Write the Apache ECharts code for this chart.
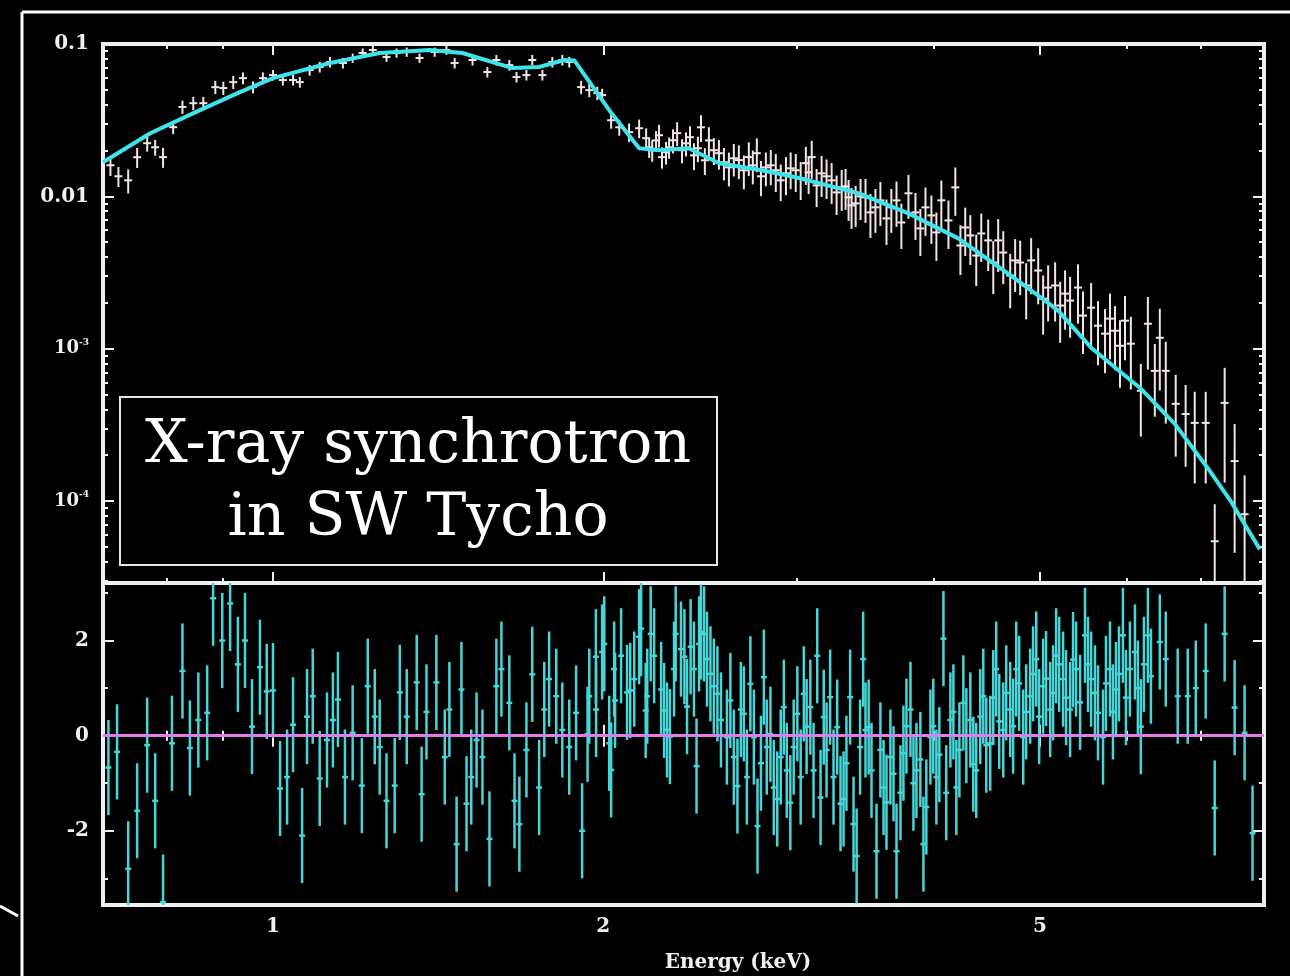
<!DOCTYPE html>
<html><head><meta charset="utf-8">
<script src="https://cdn.jsdelivr.net/npm/echarts@6/dist/echarts.min.js"></script>
<style>html,body{margin:0;padding:0;background:#000;}#c{width:1290px;height:976px;}</style>
</head><body><div id="c"></div>
<script>
// ---------- data ----------
// spectrum bins (keV), flux, relative 1-sigma error
const SPEC_E = [0.711,0.723,0.738,0.752,0.768,0.781,0.794,0.811,0.827,0.846,
0.864,0.886,0.901,0.920,0.939,0.959,0.979,1.000,1.021,1.043,
1.058,1.080,1.103,1.127,1.158,1.182,1.207,1.233,1.269,1.296,
1.324,1.360,1.404,1.439,1.464,1.520,1.568,1.598,1.642,1.667,
1.702,1.723,1.760,1.797,1.835,1.862,1.909,1.942,1.975,1.995,
2.033,2.068,2.111,2.156,2.202,2.234,2.262,2.296,2.335,2.379,
2.419,2.455,2.496,2.549,2.603,2.658,2.714,2.760,2.813,2.872,
2.934,2.995,3.059,3.097,3.162,3.229,3.298,3.346,3.396,3.467,
3.540,3.660,3.794,3.932,4.065,4.186,4.274,4.420,4.580,4.746,
4.908,5.086,5.270,5.415,5.566,5.731,5.852,5.976,6.050,6.178,
6.270,6.362,6.429,6.510,6.647,6.787,6.918,7.079,7.214,7.366,
7.522,7.681,
2.188,2.216,2.248,2.281,2.315,2.359,2.399,2.439,2.475,2.522,
2.576,2.630,2.686,2.737,2.784,2.842,2.902,2.963,3.026,3.077,
3.129,3.195,3.263,3.325,3.367,3.431,3.503,3.577,3.623,3.700,
3.738,3.850,3.890,3.981,4.023,4.126,4.231,4.320,4.374,4.485,
4.533,4.629,4.697,4.796,4.857,4.981,5.033,5.161,5.216,5.326,
5.472,5.647,5.791,5.914];
const SPEC_F = [0.0160,0.01355,0.01274,0.01807,0.02233,0.0210,0.0181,0.02845,0.0386,0.0409,
0.0409,0.0521,0.0514,0.0562,0.0597,0.0521,0.0597,0.0625,0.0580,0.0580,
0.0562,0.0674,0.0706,0.0762,0.0750,0.0809,0.0873,0.0914,0.0821,0.0873,
0.0886,0.0809,0.0886,0.0914,0.0750,0.0785,0.0655,0.0785,0.0727,0.0607,
0.0625,0.0785,0.0625,0.0762,0.0785,0.0762,0.0521,0.0498,0.0476,0.0462,
0.0316,0.0284,0.0264,0.0280,0.0210,0.0233,0.0181,0.0210,0.0260,0.0223,
0.0186,0.0284,0.0233,0.0192,0.0155,0.0173,0.0181,0.0192,0.0155,0.01483,
0.01416,0.01483,0.0165,0.0181,0.01416,0.01274,0.01146,0.00985,0.0090,0.00985,
0.00847,0.00847,0.01047,0.00847,0.00942,0.01146,0.00625,0.00571,0.00514,0.0038,
0.0038,0.00252,0.0023,0.00252,0.00186,0.001256,0.001313,0.001528,0.001079,0.00053,
0.001459,0.000716,0.00118,0.000716,0.000435,0.000373,0.000326,0.000326,0.0000545,0.000441,
0.000183,0.000082,
0.02408,0.02008,0.02519,0.01948,0.02335,0.02008,0.02445,0.02069,0.01725,0.02008,
0.01674,0.01778,0.01483,0.01599,0.01354,0.01599,0.01274,0.01528,0.01313,0.01438,
0.01181,0.01354,0.01062,0.01163,0.00873,0.0100,0.00785,0.00941,0.00717,0.00941,
0.00674,0.00785,0.00616,0.0075,0.0058,0.00695,0.00476,0.00554,0.00409,0.00514,
0.00368,0.00428,0.00302,0.00368,0.0026,0.00326,0.00213,0.0026,0.00192,0.00207,
0.00165,0.001416,0.001576,0.001046];
const SPEC_REL_ERR = [0.15,0.15,0.18,0.15,0.12,0.12,0.15,0.10,0.10,0.10,
0.10,0.10,0.10,0.10,0.09,0.09,0.09,0.08,0.08,0.08,
0.08,0.08,0.08,0.08,0.08,0.07,0.07,0.07,0.07,0.07,
0.07,0.07,0.07,0.07,0.08,0.08,0.08,0.08,0.08,0.08,
0.08,0.08,0.08,0.08,0.08,0.08,0.10,0.10,0.10,0.10,
0.12,0.12,0.14,0.14,0.15,0.15,0.16,0.16,0.18,0.18,
0.20,0.20,0.22,0.22,0.25,0.25,0.25,0.25,0.25,0.28,
0.28,0.28,0.28,0.28,0.30,0.30,0.30,0.30,0.30,0.32,
0.32,0.32,0.32,0.35,0.35,0.35,0.35,0.35,0.38,0.38,
0.40,0.40,0.42,0.42,0.45,0.45,0.45,0.45,0.50,0.50,
0.50,0.50,0.55,0.55,0.55,0.55,0.60,0.60,0.75,0.70,
0.75,0.80,
0.16,0.16,0.17,0.17,0.18,0.18,0.18,0.19,0.20,0.20,
0.24,0.24,0.25,0.25,0.26,0.26,0.27,0.27,0.28,0.28,
0.28,0.29,0.29,0.30,0.30,0.30,0.32,0.32,0.33,0.33,
0.33,0.34,0.34,0.35,0.35,0.35,0.36,0.36,0.37,0.37,
0.38,0.38,0.39,0.39,0.40,0.40,0.42,0.42,0.43,0.43,
0.44,0.45,0.46,0.47];
// fitted model curve
const MODEL_E = [0.700,0.773,0.858,0.933,1.000,1.127,1.251,1.389,1.488,1.653,1.748,1.843,1.882,2.025,2.156,2.248,
2.393,2.550,2.790,2.995,3.418,3.794,4.212,4.677,5.053,5.194,5.566,6.180,6.634,7.108,7.460,7.930];
const MODEL_F = [0.01675,0.02597,0.0368,0.0483,0.0597,0.0750,0.0873,0.0913,0.0873,0.0695,0.0706,0.0785,0.0780,0.0368,0.0207,0.0201,
0.0207,0.01649,0.01483,0.01334,0.01047,0.00773,0.0053,0.00311,0.00207,0.00178,0.001016,0.000546,0.000321,0.000165,0.000100,0.0000483];
// residuals (sigma units)
const RES_E = [0.708,0.721,0.738,0.752,0.768,0.781,0.794,0.809,0.827,0.840,
0.855,0.871,0.882,0.899,0.914,0.929,0.943,0.957,0.973,0.987,
1.000,1.015,1.030,1.043,1.063,1.074,1.087,1.103,1.120,1.134,
1.146,1.163,1.182,1.205,1.220,1.238,1.251,1.269,1.291,1.305,
1.324,1.352,1.366,1.380,1.409,1.434,1.448,1.470,1.485,1.501,
1.516,1.533,1.552,1.575,1.598,1.615,1.642,1.660,1.677,1.702,
1.723,1.748,1.767,1.785,1.812,1.835,1.862,1.889,1.913,1.942,
1.970,1.995,2.025,2.046,2.076,2.102,2.134,2.165,2.193,2.225,
2.258,2.286,2.320,2.354,2.384,2.419,2.455,2.486,2.522,2.560,
2.592,2.630,2.669,2.703,2.743,2.784,2.818,2.860,2.902,2.939,
2.982,3.026,3.064,3.109,3.155,3.195,3.242,3.290,3.331,3.381,
3.467,3.511,3.548,3.601,3.653,3.700,3.754,3.810,3.858,3.915,
3.973,4.023,4.083,4.143,4.195,4.257,4.320,4.374,4.439,4.504,
4.561,4.629,4.697,4.757,4.827,4.898,4.961,5.033,5.108,5.172,
5.248,5.326,5.393,5.495,5.566,5.647,5.707,5.791,5.864,5.950,
6.038,6.102,6.178,6.270,6.310,6.429,6.510,6.675,6.817,6.933,
7.079,7.214,7.366,7.522,7.681,7.810,
1.935,1.969,2.004,2.033,2.050,2.116,2.156,2.186,2.209,2.272,
2.300,2.328,2.371,2.402,2.432,2.445,2.471,2.504,2.541,2.611,
2.650,2.686,2.723,2.764,2.801,2.840,2.881,2.921,2.961,3.005,
3.046,3.088,3.133,3.176,3.219,3.267,3.311,3.357,3.403,3.428,
3.450,3.490,
3.577,3.623,3.677,3.731,3.778,3.834,3.890,3.939,3.997,4.048,
4.107,4.169,4.222,4.284,4.347,4.411,4.467,4.533,4.590,4.658,
4.726,4.786,4.857,4.928,4.991,5.064,5.139,5.205,5.281,5.359,
5.439,5.530,5.611,5.742,5.827,5.901,5.988,6.140,6.218];
const RES_V = [-0.67,-0.34,-2.8,-1.58,-0.2,-1.37,-3.5,-0.16,1.36,-0.26,
0.33,0.48,2.89,2.0,2.78,1.5,2.0,0.19,1.44,0.93,
0.95,-1.11,-0.87,0.23,-2.1,0.4,0.83,-0.9,-0.09,0.33,
0.76,-0.87,0.06,-1.05,1.04,0.4,-0.24,-1.37,-1.05,0.91,
0.4,1.12,-1.23,0.5,1.12,-0.45,0.55,-2.28,0.97,-1.43,
-0.87,-0.09,-0.45,-2.17,1.04,1.4,0.69,-1.37,-1.86,-0.3,
1.29,-1.09,0.55,1.19,0.83,0.12,-0.24,0.48,-2.0,0.83,
0.55,1.76,-0.16,1.4,1.68,0.91,1.19,2.25,0.83,1.68,
0.97,0.12,1.4,1.82,0.61,1.4,2.18,1.61,1.04,0.33,
-0.03,-0.45,0.55,-0.87,-0.03,-0.58,-0.24,-1.09,-0.45,-0.73,
-0.24,-0.87,0.19,-0.73,-1.3,-0.3,-0.87,-1.43,-0.58,-1.86,
0.12,-0.73,-2.43,-1.09,-0.45,-2.43,-0.37,0.55,-0.73,-2.28,
-0.03,-0.87,2.04,0.33,-1.09,0.69,0.33,-0.73,0.83,-0.16,
1.4,0.12,0.55,1.4,-0.03,0.83,1.61,1.04,0.55,1.68,
1.19,0.55,1.4,2.11,1.19,0.48,-0.03,1.4,0.97,2.11,
1.4,1.76,0.19,2.11,1.25,1.97,1.61,0.83,0.83,1.0,
1.36,-1.52,2.14,0.59,0.06,-2.05,
0.03,1.66,1.93,-0.72,0.74,0.95,2.08,0.53,2.14,0.53,
-0.02,2.14,1.66,1.87,-0.64,1.93,2.14,1.3,0.88,0.74,
-1.06,0.46,1.09,-1.9,1.23,0.03,-1.33,0.6,-1.41,0.46,
0.88,0.6,1.68,0.39,0.81,0.18,-1.33,0.81,-2.53,-0.24,
1.61,0.18,
-0.3,-1.4,-0.8,-1.2,0.2,-1.0,-0.5,-1.5,0.2,-0.4,
-1.2,0.5,-0.3,0.0,-0.6,0.4,-0.2,0.8,0.3,0.9,
0.2,1.1,0.5,1.3,0.4,1.2,0.9,1.5,0.8,1.6,
0.7,1.5,0.9,1.1,0.5,1.3,0.8,1.0,1.5];
const RES_SIGMA = 1; // residuals are in units of sigma

// axis ranges and ticks
const X_MIN = 0.7, X_MAX = 8;
const X_MAJOR = [1, 2, 5];
const X_MINOR = [0.8, 0.9, 3, 4, 6, 7];
const YU_MIN = 2.9e-5, YU_MAX = 0.1;
const YU_MAJOR = [1e-4, 1e-3, 0.01, 0.1];
const YU_LABELS = ['{m|10}{s|-4}', '{m|10}{s|-3}', '0.01', '0.1'];
const YU_MINOR = [3e-5,4e-5,5e-5,6e-5,7e-5,8e-5,9e-5,
  2e-4,3e-4,4e-4,5e-4,6e-4,7e-4,8e-4,9e-4,
  2e-3,3e-3,4e-3,5e-3,6e-3,7e-3,8e-3,9e-3,
  0.02,0.03,0.04,0.05,0.06,0.07,0.08,0.09];
const YL_MIN = -3.56, YL_MAX = 3.21;
const YL_MAJOR = [-2, 0, 2];
const YL_MINOR = [-3, -1, 1, 3];

// ---------- chart ----------
const FG = '#f0f0f0';
const FONT = "'DejaVu Serif', serif";
const DATA_COLOR = '#f2e4e4';
const MODEL_COLOR = '#3fe4ea';
const RES_COLOR = '#46d6d8';
const ZERO_COLOR = '#e27ce8';

const labelBase = {color: FG, fontFamily: FONT, fontWeight: 'bold', fontSize: 20};

function xAxes(g, withLabels) {
  const mk = (pos, ticks, len, show) => ({
    type: 'log', logBase: 10, gridIndex: g, position: pos, min: X_MIN, max: X_MAX,
    axisLine: {show: false}, splitLine: {show: false},
    axisTick: {show: true, inside: true, length: len, customValues: ticks, lineStyle: {color: FG, width: 2}},
    axisLabel: Object.assign({show: show, customValues: X_MAJOR, margin: 12,
      formatter: v => String(+(+v).toPrecision(3))}, labelBase)
  });
  return [mk('bottom', X_MAJOR, 11, withLabels), mk('bottom', X_MINOR, 5, false),
          mk('top', X_MAJOR, 11, false), mk('top', X_MINOR, 5, false)];
}
function yAxesUpper() {
  const mk = (pos, ticks, len, show) => ({
    type: 'log', logBase: 10, gridIndex: 0, position: pos, min: YU_MIN, max: YU_MAX,
    axisLine: {show: false}, splitLine: {show: false},
    axisTick: {show: true, inside: true, length: len, customValues: ticks, lineStyle: {color: FG, width: 2}},
    axisLabel: Object.assign({show: show, customValues: YU_MAJOR, margin: 14,
      formatter: v => YU_LABELS[Math.round(Math.log10(v)) + 4],
      rich: {m: {fontSize: 18, fontFamily: FONT, fontWeight: 'bold', color: FG},
             s: {fontSize: 9, fontFamily: FONT, fontWeight: 'bold', color: FG, padding: [0, 0, 12, 0]}}
    }, labelBase)
  });
  return [mk('left', YU_MAJOR, 11, true), mk('left', YU_MINOR, 5, false),
          mk('right', YU_MAJOR, 11, false), mk('right', YU_MINOR, 5, false)];
}
function yAxesLower() {
  const mk = (pos, ticks, len, show) => ({
    type: 'value', gridIndex: 1, position: pos, min: YL_MIN, max: YL_MAX,
    axisLine: {show: false}, splitLine: {show: false},
    axisTick: {show: true, inside: true, length: len, customValues: ticks, lineStyle: {color: FG, width: 2}},
    axisLabel: Object.assign({show: show, customValues: YL_MAJOR, margin: 14}, labelBase)
  });
  return [mk('left', YL_MAJOR, 11, true), mk('left', YL_MINOR, 5, false),
          mk('right', YL_MAJOR, 11, false), mk('right', YL_MINOR, 5, false)];
}

function errorBar(color, half, width) {
  return function (params, api) {
    const c = api.coord([api.value(0), api.value(1)]);
    const lo = api.coord([api.value(0), api.value(2)]);
    const hi = api.coord([api.value(0), api.value(3)]);
    return {type: 'group', children: [
      {type: 'line', shape: {x1: c[0], y1: lo[1], x2: c[0], y2: hi[1]}, style: {stroke: color, lineWidth: width}},
      {type: 'line', shape: {x1: c[0] - half, y1: c[1], x2: c[0] + half, y2: c[1]}, style: {stroke: color, lineWidth: width}}
    ]};
  };
}

const specData = SPEC_E.map((e, i) => [e, SPEC_F[i], SPEC_F[i] * (1 - SPEC_REL_ERR[i]), SPEC_F[i] * (1 + SPEC_REL_ERR[i])]);
const modelData = MODEL_E.map((e, i) => [e, MODEL_F[i]]);
const resData = RES_E.map((e, i) => [e, RES_V[i], RES_V[i] - RES_SIGMA, RES_V[i] + RES_SIGMA]);

const chart = echarts.init(document.getElementById('c'), null, {renderer: 'canvas'});
chart.setOption({
  backgroundColor: '#000',
  animation: false,
  grid: [
    {left: 103, top: 44, width: 1161, height: 539, show: true, borderColor: FG, borderWidth: 4, backgroundColor: 'transparent'},
    {left: 103, top: 583, width: 1161, height: 322, show: true, borderColor: FG, borderWidth: 4, backgroundColor: 'transparent'}
  ],
  xAxis: xAxes(0, false).concat(xAxes(1, true)),
  yAxis: yAxesUpper().concat(yAxesLower()),
  series: [
    {type: 'custom', name: 'data', xAxisIndex: 0, yAxisIndex: 0, clip: true,
     renderItem: errorBar(DATA_COLOR, 4, 2), encode: {x: 0, y: [1, 2, 3]}, data: specData, z: 2},
    {type: 'line', name: 'model', xAxisIndex: 0, yAxisIndex: 0, data: modelData, showSymbol: false,
     lineStyle: {color: MODEL_COLOR, width: 4}, itemStyle: {color: MODEL_COLOR}, z: 3, clip: true},
    {type: 'custom', name: 'residuals', xAxisIndex: 4, yAxisIndex: 4, clip: true,
     renderItem: errorBar(RES_COLOR, 3, 2.5), encode: {x: 0, y: [1, 2, 3]}, data: resData, z: 2,
     markLine: {silent: true, symbol: 'none', label: {show: false}, animation: false,
       lineStyle: {color: ZERO_COLOR, width: 3, type: 'solid'}, data: [{yAxis: 0}]}}
  ],
  graphic: [
    {type: 'line', shape: {x1: 22, y1: 12, x2: 1290, y2: 12}, style: {stroke: '#ffffff', lineWidth: 3}, z: 50},
    {type: 'line', shape: {x1: 22, y1: 12, x2: 22, y2: 976}, style: {stroke: '#ffffff', lineWidth: 3}, z: 50},
    {type: 'line', shape: {x1: 0, y1: 906, x2: 18, y2: 916}, style: {stroke: '#ffffff', lineWidth: 3}, z: 50},
    {type: 'rect', shape: {x: 120, y: 397, width: 597, height: 168}, style: {fill: '#000', stroke: '#e6e6e6', lineWidth: 2}, z: 100},
    {type: 'text', x: 418, y: 483, z: 101,
     style: {text: 'X-ray synchrotron\nin SW Tycho', fill: '#ffffff', fontFamily: FONT, fontSize: 60,
             align: 'center', verticalAlign: 'middle', lineHeight: 73}},
    {type: 'text', x: 738, y: 963, z: 101,
     style: {text: 'Energy (keV)', fill: FG, fontFamily: FONT, fontWeight: 'bold', fontSize: 20,
             align: 'center', verticalAlign: 'middle'}}
  ]
});
</script>
</body></html>
